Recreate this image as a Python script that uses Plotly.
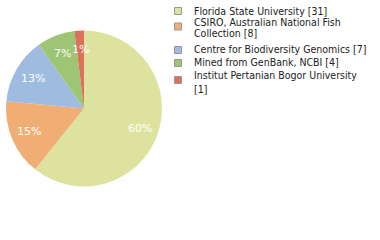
import plotly.graph_objects as go
import math

labels = ["Florida State University", "CSIRO, Australian National Fish Collection",
          "Centre for Biodiversity Genomics", "Mined from GenBank, NCBI",
          "Institut Pertanian Bogor University"]
counts = [31, 8, 7, 4, 1]
legend_lines = [["Florida State University [31]"],
                ["CSIRO, Australian National Fish", "Collection [8]"],
                ["Centre for Biodiversity Genomics [7]"],
                ["Mined from GenBank, NCBI [4]"],
                ["Institut Pertanian Bogor University", "[1]"]]
colors = ["#dde39e", "#f0ae74", "#9fbbe0", "#9dc574", "#dc705a"]

W, H = 380, 240
total = sum(counts)
pct_text = [f"{math.floor(c * 100 / total)}%" for c in counts]

# pie geometry in pixels
px0, px1, py0, py1 = 6, 162, 30, 187
cx, cy = (px0 + px1) / 2, (py0 + py1) / 2
rad = (px1 - px0) / 2

fig = go.Figure()
fig.add_trace(go.Pie(
    labels=labels, values=counts, textinfo="none",
    sort=False, direction="clockwise", rotation=0,
    marker=dict(colors=colors, line=dict(width=0)),
    showlegend=False, hoverinfo="skip",
    domain=dict(x=[px0 / W, px1 / W], y=[1 - py1 / H, 1 - py0 / H]),
))

annotations = []
cum = 0
for c, t in zip(counts, pct_text):
    mid = (cum + c / 2) / total * 2 * math.pi
    cum += c
    lx = cx + 0.76 * rad * math.sin(mid)
    ly = cy - 0.76 * rad * math.cos(mid)
    annotations.append(dict(text=t, xref="paper", yref="paper", x=lx / W, y=1 - ly / H,
                            xanchor="center", yanchor="middle", showarrow=False,
                            font=dict(family="DejaVu Sans", size=11, color="white")))

font = dict(family="DejaVu Sans Condensed, DejaVu Sans", size=10.5, color="#222")
box_y = [11, 26.5, 50, 63, 80]
line_y = [[10.8], [21.5, 33.3], [49.3], [62.3], [75.3, 88.5]]
shapes = []
for i, c in enumerate(colors):
    yc = box_y[i]
    shapes.append(dict(type="rect", xref="paper", yref="paper",
                       x0=174.5 / W, x1=181.5 / W, y0=1 - (yc + 3.5) / H, y1=1 - (yc - 3.5) / H,
                       fillcolor=c, line=dict(color="#999999", width=1)))
    for t, ly in zip(legend_lines[i], line_y[i]):
        annotations.append(dict(text=t, xref="paper", yref="paper", x=192 / W, y=1 - ly / H,
                                xanchor="left", yanchor="middle", showarrow=False, font=font))

fig.update_layout(width=W, height=H, margin=dict(l=0, r=0, t=0, b=0),
                  paper_bgcolor="white", plot_bgcolor="white",
                  shapes=shapes, annotations=annotations)
fig.write_html("out.html")
